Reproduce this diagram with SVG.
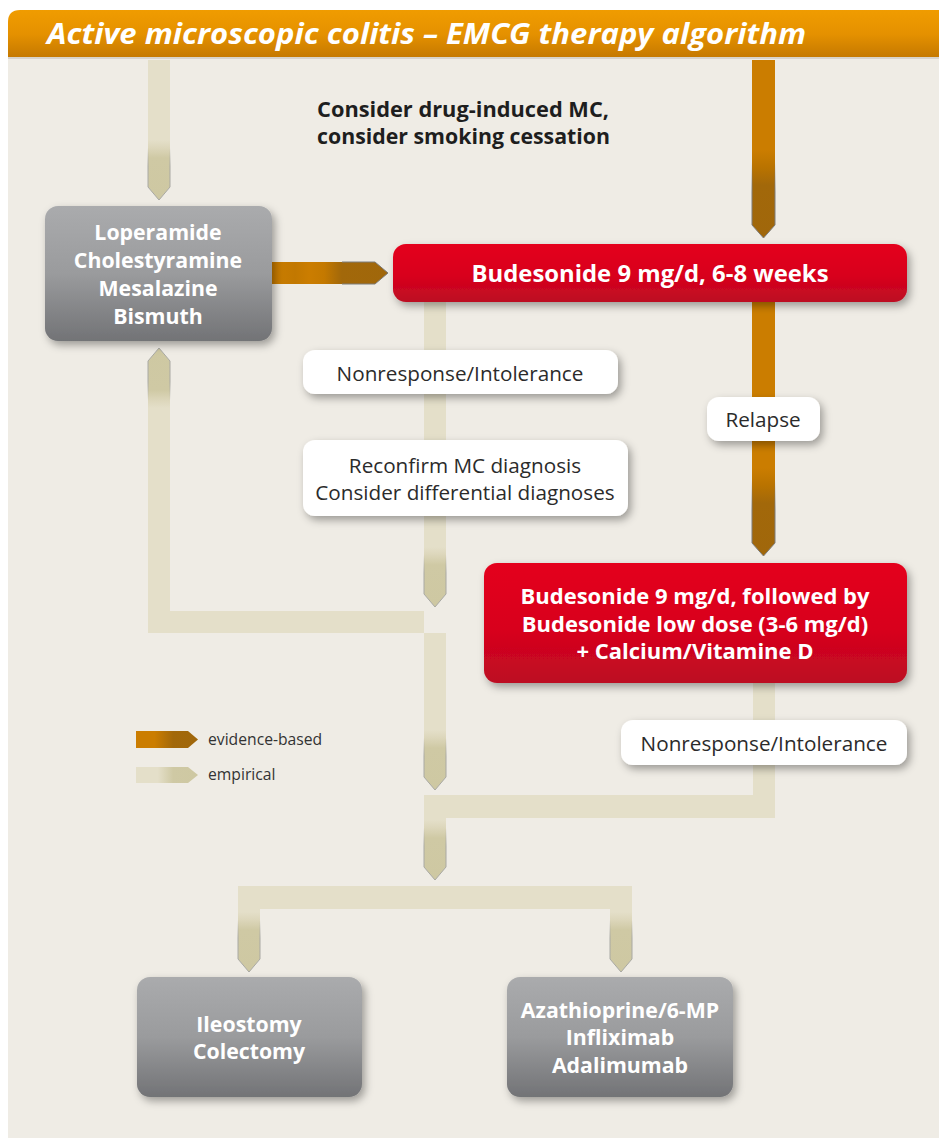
<svg xmlns="http://www.w3.org/2000/svg" xmlns:xlink="http://www.w3.org/1999/xlink" width="939" height="1138" viewBox="0 0 939 1138">
<defs>
<style>
.t{font-family:"Open Sans","Liberation Sans",sans-serif;}
.bw{font-weight:700;fill:#ffffff;font-size:21.3px;text-anchor:middle;}
.rw{font-weight:700;fill:#ffffff;font-size:22px;text-anchor:middle;}
.lab{font-size:20.7px;fill:#2b2b2b;text-anchor:middle;}
.dk{font-weight:700;fill:#1e1e1e;font-size:21px;}
.leg{font-size:15.7px;fill:#333333;}
.emp{fill:#E4DFC9;}
.evi{fill:#CB7D00;}
.lbox{fill:#ffffff;filter:url(#sh);}
</style>
<linearGradient id="hdr" x1="0" y1="0" x2="0" y2="1">
<stop offset="0" stop-color="#F09C00"/><stop offset="0.5" stop-color="#E59100"/><stop offset="1" stop-color="#C47800"/>
</linearGradient>
<linearGradient id="grey" x1="0" y1="0" x2="0" y2="1">
<stop offset="0" stop-color="#AAABAD"/><stop offset="0.5" stop-color="#9A9B9D"/><stop offset="1" stop-color="#727376"/>
</linearGradient>
<linearGradient id="red" x1="0" y1="0" x2="0" y2="1">
<stop offset="0" stop-color="#E4001B"/><stop offset="0.55" stop-color="#D8021D"/><stop offset="1" stop-color="#BC0B23"/>
</linearGradient>
<linearGradient id="gE" x1="0" y1="0" x2="0" y2="1">
<stop offset="0" stop-color="#E4DFC9"/><stop offset="0.12" stop-color="#DDD7BC"/><stop offset="0.3" stop-color="#CFC9A4"/><stop offset="1" stop-color="#CEC8A2"/>
</linearGradient>
<linearGradient id="gEs" x1="0" y1="0" x2="0" y2="1">
<stop offset="0" stop-color="#A9A9A4" stop-opacity="0"/><stop offset="0.35" stop-color="#A9A9A4" stop-opacity="1"/><stop offset="1" stop-color="#A9A9A4" stop-opacity="1"/>
</linearGradient>
<linearGradient id="gV" x1="0" y1="0" x2="0" y2="1">
<stop offset="0" stop-color="#CB7D00"/><stop offset="0.2" stop-color="#B97300"/><stop offset="0.4" stop-color="#A2680A"/><stop offset="1" stop-color="#A0670B"/>
</linearGradient>
<linearGradient id="gVs" x1="0" y1="0" x2="0" y2="1">
<stop offset="0" stop-color="#7D7C7A" stop-opacity="0"/><stop offset="0.4" stop-color="#7D7C7A" stop-opacity="1"/><stop offset="1" stop-color="#7D7C7A" stop-opacity="1"/>
</linearGradient>
<linearGradient id="gH" gradientUnits="userSpaceOnUse" x1="272" y1="0" x2="388" y2="0">
<stop offset="0" stop-color="#CB7D00"/><stop offset="0.2" stop-color="#C27800"/><stop offset="0.32" stop-color="#CB7D00"/><stop offset="0.45" stop-color="#C47900"/><stop offset="0.6" stop-color="#A2680A"/><stop offset="1" stop-color="#A0670B"/>
</linearGradient>
<linearGradient id="gLV" x1="0" y1="0" x2="1" y2="0">
<stop offset="0" stop-color="#CB7D00"/><stop offset="0.3" stop-color="#CB7D00"/><stop offset="0.6" stop-color="#A2680A"/><stop offset="1" stop-color="#A0670B"/>
</linearGradient>
<linearGradient id="gLE" x1="0" y1="0" x2="1" y2="0">
<stop offset="0" stop-color="#E4DFC9"/><stop offset="0.35" stop-color="#E4DFC9"/><stop offset="0.6" stop-color="#CFC9A4"/><stop offset="1" stop-color="#CEC8A2"/>
</linearGradient>
<filter id="sh" x="-10%" y="-20%" width="125%" height="150%">
<feDropShadow dx="3" dy="4" stdDeviation="4" flood-color="#000000" flood-opacity="0.35"/>
</filter>
<g id="headE">
<path d="M0 0 H22 V47 L11 60 L0 47 Z" fill="url(#gE)"/>
<path d="M0 8 V47 L11 60 L22 47 V8" fill="none" stroke="url(#gEs)" stroke-width="1"/>
</g>
<g id="headV">
<path d="M0 0 H23 V75 L11.5 88 L0 75 Z" fill="url(#gV)"/>
<path d="M0 12 V75 L11.5 88 L23 75 V12" fill="none" stroke="url(#gVs)" stroke-width="1"/>
</g>
</defs>

<rect x="0" y="0" width="939" height="1138" fill="#ffffff"/>
<rect x="8" y="56" width="931" height="1082" fill="#EFECE5"/>

<g id="header">
<path d="M8 58 V22 Q8 10 20 10 H939 V58 Z" fill="url(#hdr)"/>
<rect x="8" y="57" width="931" height="2" fill="#D8D3CA"/>
<text class="t" x="47" y="44" font-size="29" font-weight="700" font-style="italic" fill="#ffffff" textLength="759" lengthAdjust="spacingAndGlyphs">Active microscopic colitis – EMCG therapy algorithm</text>
</g>

<g id="connectors">
<rect class="emp" x="148" y="60" width="22" height="81"/>
<use xlink:href="#headE" href="#headE" x="148" y="140"/>
<rect class="evi" x="752" y="60" width="23" height="91"/>
<use xlink:href="#headV" href="#headV" x="752" y="150"/>
<path d="M272 262 H375 L388 273 L375 284 H272 Z" fill="url(#gH)"/>
<path d="M342 262 H375 L388 273 L375 284 H342" fill="none" stroke="#7D7C7A" stroke-width="1"/>
<rect class="evi" x="752" y="302" width="23" height="167"/>
<use xlink:href="#headV" href="#headV" x="752" y="468"/>
<rect class="emp" x="424" y="302" width="22" height="246"/>
<use xlink:href="#headE" href="#headE" x="424" y="547"/>
<path class="emp" d="M148 407 V633 H446 V731 H424 V611 H170 V407 Z"/>
<use xlink:href="#headE" href="#headE" transform="translate(170,408) rotate(180)"/>
<use xlink:href="#headE" href="#headE" x="424" y="730"/>
<path class="emp" d="M753 683 H775 V818 H446 V821 H424 V795 H753 Z"/>
<use xlink:href="#headE" href="#headE" x="424" y="820"/>
<path class="emp" d="M238 913 V886 H632 V913 H610 V909 H260 V913 Z"/>
<use xlink:href="#headE" href="#headE" x="238" y="912"/>
<use xlink:href="#headE" href="#headE" x="610" y="912"/>
</g>

<g id="note">
<text class="t dk" x="317" y="117" textLength="292" lengthAdjust="spacingAndGlyphs">Consider drug-induced MC,</text>
<text class="t dk" x="317" y="144" textLength="293" lengthAdjust="spacingAndGlyphs">consider smoking cessation</text>
</g>

<g id="node-symptomatic">
<rect x="45" y="206" width="227" height="135" rx="13" fill="url(#grey)" filter="url(#sh)"/>
<text class="t bw" x="158" y="240">Loperamide</text>
<text class="t bw" x="158" y="268">Cholestyramine</text>
<text class="t bw" x="158" y="296">Mesalazine</text>
<text class="t bw" x="158" y="324">Bismuth</text>
</g>

<g id="node-budesonide1">
<rect x="393" y="244" width="514" height="58" rx="13" fill="url(#red)" filter="url(#sh)"/>
<text class="t rw" x="650" y="282" style="font-size:23px" textLength="357" lengthAdjust="spacingAndGlyphs">Budesonide 9 mg/d, 6-8 weeks</text>
</g>

<g id="label-nonresponse1">
<rect class="lbox" x="303" y="350" width="315" height="44" rx="12"/>
<text class="t lab" x="460" y="381">Nonresponse/Intolerance</text>
</g>

<g id="label-reconfirm">
<rect class="lbox" x="303" y="440" width="325" height="76" rx="12"/>
<text class="t lab" x="465" y="473">Reconfirm MC diagnosis</text>
<text class="t lab" x="465" y="500">Consider differential diagnoses</text>
</g>

<g id="label-relapse">
<rect class="lbox" x="707" y="397" width="113" height="44" rx="12"/>
<text class="t lab" x="763" y="427">Relapse</text>
</g>

<g id="node-budesonide2">
<rect x="484" y="563" width="423" height="120" rx="13" fill="url(#red)" filter="url(#sh)"/>
<text class="t rw" x="695" y="604">Budesonide 9 mg/d, followed by</text>
<text class="t rw" x="695" y="632">Budesonide low dose (3-6 mg/d)</text>
<text class="t rw" x="695" y="659">+ Calcium/Vitamine D</text>
</g>

<g id="label-nonresponse2">
<rect class="lbox" x="621" y="720" width="286" height="45" rx="12"/>
<text class="t lab" x="764" y="751">Nonresponse/Intolerance</text>
</g>

<g id="legend">
<path d="M136 731 H188 L198 739.5 L188 748 H136 Z" fill="url(#gLV)"/>
<text class="t leg" x="208" y="745">evidence-based</text>
<path d="M136 767 H188 L198 775 L188 783 H136 Z" fill="url(#gLE)"/>
<text class="t leg" x="208" y="780">empirical</text>
</g>

<g id="node-surgery">
<rect x="137" y="977" width="225" height="120" rx="13" fill="url(#grey)" filter="url(#sh)"/>
<text class="t bw" x="249" y="1032">Ileostomy</text>
<text class="t bw" x="249" y="1059">Colectomy</text>
</g>

<g id="node-immuno">
<rect x="507" y="977" width="226" height="120" rx="13" fill="url(#grey)" filter="url(#sh)"/>
<text class="t bw" x="620" y="1018">Azathioprine/6-MP</text>
<text class="t bw" x="620" y="1045">Infliximab</text>
<text class="t bw" x="620" y="1073">Adalimumab</text>
</g>
</svg>
